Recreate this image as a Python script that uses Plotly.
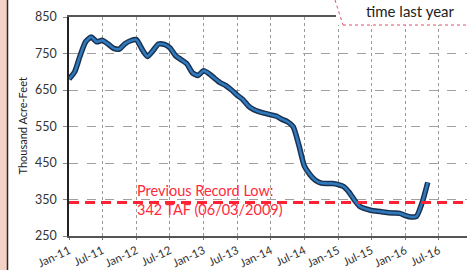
import plotly.graph_objects as go
import pandas as pd

# ---- data ----
start_month = "2011-01-01"
storage_taf = [680, 700, 742, 782, 795, 782, 786, 776, 764, 762, 777, 785,
               788, 762, 742, 758, 776, 775, 766, 744, 733, 722, 697, 690,
               703, 694, 682, 670, 662, 650, 636, 624, 606, 596, 590, 586,
               582, 578, 570, 563, 550, 500, 442, 418, 402, 395, 394, 394,
               391, 385, 370, 347, 330, 324, 320, 318, 316, 314, 313, 312,
               306, 302, 304, 342, 397]
dates = pd.date_range(start_month, periods=len(storage_taf), freq="MS")

record_low = 342
record_text = "Previous Record Low:<br>342 TAF (06/03/2009)"
tick_dates = pd.date_range("2011-01-01", "2016-07-01", freq="6MS")
tick_labels = ["Jan-11", "Jul-11", "Jan-12", "Jul-12", "Jan-13", "Jul-13",
               "Jan-14", "Jul-14", "Jan-15", "Jul-15", "Jan-16", "Jul-16"]
y_ticks = [250, 350, 450, 550, 650, 750, 850]
y_title = "Thousand Acre-Feet"
callout_text = "time last year"

W, H = 467, 270
ML, MT, MB, MR = 69, 17, 34, 0
PW, PH = W - ML - MR, H - MT - MB

def px_x(p):
    return (p - ML) / PW

def px_y(p):
    return 1 - (p - MT) / PH

FONT = "Lato, 'Open Sans', sans-serif"

fig = go.Figure()
fig.add_trace(go.Scatter(x=dates, y=storage_taf, mode="lines",
                         line=dict(color="#1b3150", width=5.5, shape="spline", smoothing=0.6),
                         hoverinfo="skip", showlegend=False))
fig.add_trace(go.Scatter(x=dates, y=storage_taf, mode="lines",
                         line=dict(color="#2f79bd", width=2.6, shape="spline", smoothing=0.6),
                         showlegend=False))

shapes = [
    dict(type="line", xref="paper", yref="y", x0=0, x1=1, y0=record_low, y1=record_low,
         line=dict(color="#ff2232", width=3, dash="10px,6px"), layer="above"),
    dict(type="rect", xref="paper", yref="paper", x0=px_x(336), x1=1.01, y0=px_y(25), y1=px_y(-2),
         fillcolor="white", line=dict(width=0), layer="above"),
    dict(type="line", xref="paper", yref="paper", x0=px_x(335), x1=px_x(343), y0=px_y(0), y1=px_y(25),
         line=dict(color="#e0506a", width=1, dash="dot"), layer="above"),
    dict(type="line", xref="paper", yref="paper", x0=px_x(343), x1=1.01, y0=px_y(25), y1=px_y(25),
         line=dict(color="#e0506a", width=1, dash="dot"), layer="above"),
    dict(type="rect", xref="paper", yref="paper", x0=px_x(-2), x1=px_x(7), y0=px_y(H + 2), y1=px_y(-2),
         fillcolor="#f4d2c6", line=dict(width=0), layer="above"),
    dict(type="line", xref="paper", yref="paper", x0=px_x(7.5), x1=px_x(7.5), y0=px_y(H + 2), y1=px_y(-2),
         line=dict(color="#2a2a2a", width=1.5), layer="above"),
]

annotations = [
    dict(text=record_text, xref="paper", yref="paper", x=px_x(135), y=px_y(180),
         xanchor="left", yanchor="top", showarrow=False, align="left",
         font=dict(family=FONT, size=14.5, color="#ff2a3c")),
    dict(text=y_title, xref="paper", yref="paper", x=px_x(22), y=0.5, textangle=-90,
         xanchor="center", yanchor="middle", showarrow=False,
         font=dict(family=FONT, size=11, color="#222")),
    dict(text=callout_text, xref="paper", yref="paper", x=px_x(410), y=px_y(11),
         xanchor="center", yanchor="middle", showarrow=False,
         font=dict(family=FONT, size=15, color="#222")),
]

fig.update_layout(
    width=W, height=H,
    margin=dict(l=ML, r=MR, t=MT, b=MB, pad=0, autoexpand=False),
    paper_bgcolor="white", plot_bgcolor="white",
    font=dict(family=FONT, color="#333"),
    shapes=shapes, annotations=annotations, showlegend=False,
    xaxis=dict(range=["2011-01-01", "2016-11-30"], tickvals=tick_dates, ticktext=tick_labels,
               tickangle=-25, tickfont=dict(size=11.5, color="#333"),
               showgrid=True, gridcolor="#9a9a9a", griddash="dot", gridwidth=1,
               showline=True, linecolor="#555", linewidth=1.5, mirror=True,
               ticks="outside", ticklen=2, tickcolor="#777", zeroline=False,
               automargin=False),
    yaxis=dict(range=[250, 850], tickvals=y_ticks, tickfont=dict(size=12.5, color="#333"),
               showgrid=True, gridcolor="#a0a0a0", griddash="dash", gridwidth=1,
               showline=True, linecolor="#222", linewidth=1.5,
               ticks="outside", ticklen=4, tickcolor="#888", ticklabelstandoff=4,
               zeroline=False, automargin=False),
)

fig.write_html("out.html", config={"displayModeBar": False},
               post_script="document.body.style.margin='0';document.body.style.overflow='hidden';")
